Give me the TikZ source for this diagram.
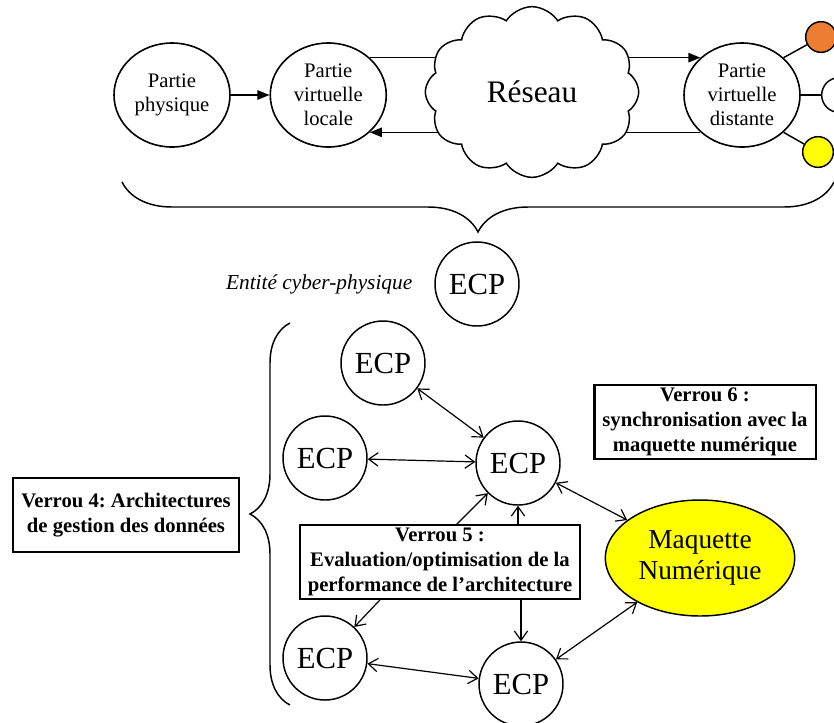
\documentclass[tikz,border=0pt]{standalone}
\usepackage{fontspec}
\setmainfont{Liberation Serif}
\usepackage{tikz}
\usetikzlibrary{shapes.geometric, shapes.symbols, arrows.meta, positioning, backgrounds, decorations.pathreplacing}
\tikzstyle{arrow} = [line width=1.1pt,->,>={Triangle[length=9pt,width=7pt]}]
\definecolor{orangeoff}{HTML}{ED7D31}
\definecolor{jaunevif}{HTML}{FFFF00}
\frenchspacing

\begin{document}
\begin{tikzpicture}[
    x=0.75pt, y=-0.75pt,
    part/.style={ellipse, draw, line width=1.2pt, fill=white,
                 minimum width=87pt, minimum height=78pt, inner sep=0pt,
                 align=center, font=\fontsize{15.5}{18}\selectfont},
    ecp/.style={circle, draw, line width=1.1pt, fill=white,
                minimum size=63pt, inner sep=0pt,
                font=\fontsize{23}{27}\selectfont},
    puce/.style={circle, draw, line width=1.1pt, minimum size=23pt, inner sep=0pt},
    verrou/.style={rectangle, draw, line width=1.6pt, fill=white, align=center,
                   inner xsep=6pt, inner ysep=2pt, minimum height=55pt,
                   font=\fontsize{15.5}{18.5}\selectfont\bfseries},
    link/.style={line width=0.9pt, <->, >={Straight Barb[length=7pt,width=10pt]}},
    fleche/.style={line width=0.9pt, ->, >={Straight Barb[length=7pt,width=10pt]}},
    accolade/.style={decorate, decoration={brace, amplitude=#1}, line width=1.1pt}
]
\useasboundingbox (0,0) rectangle (834,722);

% --- Entite cyber-physique (top row) ---
\node[part] (phys) at (172,95) {Partie\\physique};
\node[part, right=29pt of phys] (vloc) {Partie\\virtuelle\\locale};
\node[cloud, cloud puffs=12, cloud puff arc=115, cloud ignores aspect,
      draw, line width=1.1pt, fill=white, minimum width=160pt, minimum height=128pt,
      font=\fontsize{23.5}{28}\selectfont] (net) at (532,92) {Réseau};
\node[part] (vdist) at (742,95) {Partie\\virtuelle\\distante};

\node[puce, fill=orangeoff] (p_or) at (821,37) {};
\node[puce, fill=white, minimum size=26pt] (p_bl) at (839,95) {};
\node[puce, fill=jaunevif] (p_ja) at (818,152) {};

\draw[arrow] (phys) -- (vloc);
\draw[line width=1.1pt] (vdist.north east) -- (p_or);
\draw[line width=1.1pt] (vdist.east) -- (p_bl);
\draw[line width=1.1pt] (vdist.south east) -- (p_ja);

% lines into the cloud go behind it
\begin{pgfonlayer}{background}
\draw[line width=1.1pt] (vloc.north east) -- (vloc.north east -| net.center);
\draw[arrow] (vloc.south east -| net.center) -- (vloc.south east);
\draw[arrow] (vdist.north west -| net.center) -- (vdist.north west);
\draw[line width=1.1pt] (vdist.south west -| net.center) -- (vdist.south west);
\end{pgfonlayer}

\draw[accolade=37.5pt] (834,182) -- (122,182);

\node[ecp] (ecp0) at (477,284) {ECP};
\node[left=13pt of ecp0, font=\fontsize{16}{19}\selectfont\itshape] (entite)
    {Entité cyber-physique};

% --- Architecture ---
\node[ecp] (ecp1) at (383,363) {ECP};
\node[ecp] (ecp2) at (325,458) {ECP};
\node[ecp] (ecpc) at (518,463) {ECP};
\node[ecp] (ecp3) at (325,658) {ECP};
\node[ecp] (ecp4) at (521,684) {ECP};

\node[ellipse, draw, line width=1.1pt, fill=jaunevif, minimum width=142pt,
      minimum height=87pt, inner sep=0pt, align=center,
      font=\fontsize{20.5}{23}\selectfont] (maq) at (700,558) {Maquette\\Numérique};

\node[verrou] (v4) at (126,515) {Verrou 4: Architectures\\de gestion des données};
\node[verrou] (v5) at (440,562) {Verrou 5 :\\Evaluation/optimisation de la\\performance de l’architecture};
\node[verrou] (v6) at (705,422) {Verrou 6 :\\synchronisation avec la\\maquette numérique};

\draw[accolade=30pt] (290,705) -- (290,323);

\draw[link] (ecp1) -- (ecpc);
\draw[link] (ecp2) -- (ecpc);
\draw[link] (ecp3) -- (ecp4);
\draw[link] (ecpc) -- (maq);
\draw[link] (ecp4) -- (maq);

\draw[fleche] ([xshift=118.5pt]v5.north west) -- (ecpc);
\draw[fleche] (v5.north -| ecpc) -- (ecpc);
\draw[fleche] ([xshift=61pt]v5.south west) -- (ecp3);
\draw[fleche] (v5.south -| ecp4) -- (ecp4);

\end{tikzpicture}
\end{document}
